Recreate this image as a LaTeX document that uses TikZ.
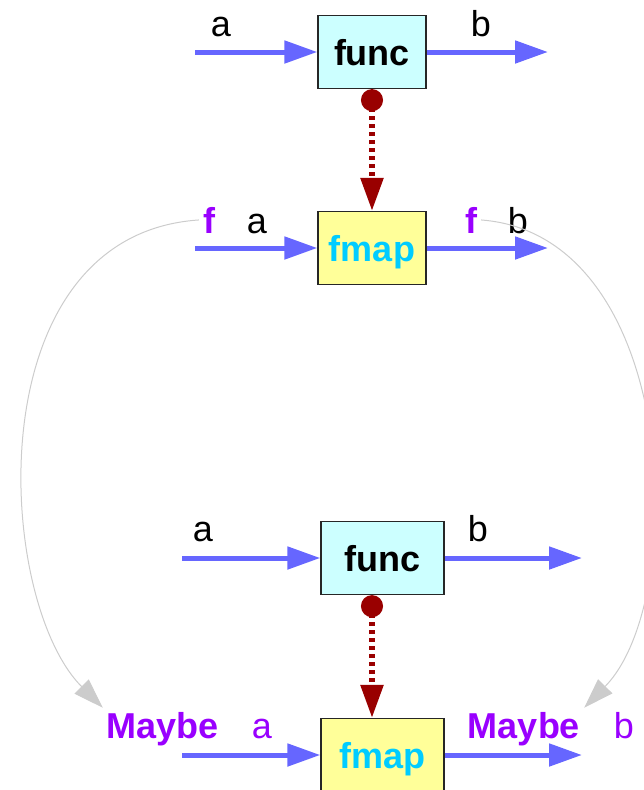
\documentclass[tikz,border=0pt]{standalone}
\usepackage{fontspec}
\setmainfont{Liberation Sans}
\usetikzlibrary{arrows.meta,positioning}
\definecolor{FunBlue}{HTML}{6666FF}
\definecolor{FunCyan}{HTML}{CCFFFF}
\definecolor{FunYellow}{HTML}{FFFF99}
\definecolor{FunSky}{HTML}{00CCFF}
\definecolor{FunPurple}{HTML}{9900FF}
\definecolor{FunRed}{HTML}{990000}
\definecolor{FunGray}{HTML}{CCCCCC}

\begin{document}
\begin{tikzpicture}[x=1pt,y=-1pt,
  every node/.style={font=\fontsize{36}{40}\selectfont},
  funbox/.style={draw=black!85,line width=1.3pt,fill=FunCyan,minimum width=108pt,
    minimum height=73pt,inner sep=0pt,text depth=0pt,font=\fontsize{36}{40}\selectfont\bfseries},
  mapbox/.style={funbox,fill=FunYellow,text=FunSky},
  lbl/.style={anchor=base,inner sep=4pt},
  ftag/.style={lbl,text=FunPurple,font=\fontsize{36}{40}\selectfont\bfseries},
  flow/.style={draw=FunBlue,line width=5pt,-{Triangle[length=33pt,width=22pt]}},
  lift/.style={draw=FunRed,line width=5.5pt,dash pattern=on 4pt off 4pt,
    {Circle[length=22pt]}-{Triangle[length=33pt,width=22pt]}},
  hop/.style={draw=FunGray,line width=1pt,-{Triangle[length=30pt,width=20pt]}}]
  \useasboundingbox (0,0) rectangle (643,790);

  % boxes
  \node[funbox] (func1) at (372,52) {func};
  \node[mapbox] (fmap1) at (372,248) {fmap};
  \node[funbox,minimum width=123pt] (func2) at (382.5,558) {func};
  \node[mapbox,minimum width=123pt] (fmap2) at (382.5,755) {fmap};

  % labels
  \node[lbl] (a1) at (221,36) {a};
  \node[lbl] (b1) at (481,36) {b};
  \node[ftag] (fL) at (209,233) {f};
  \node[lbl] (a2) at (257,233) {a};
  \node[ftag] (fR) at (471,233) {f};
  \node[lbl] (b2) at (518,233) {b};
  \node[lbl] (a3) at (203,541) {a};
  \node[lbl] (b3) at (478,541) {b};
  \node[ftag] (mayL) at (163,738) {Maybe};
  \node[lbl,text=FunPurple] (a4) at (262,738) {a};
  \node[ftag] (mayR) at (524,738) {Maybe};
  \node[lbl,text=FunPurple] (b4) at (624,738) {b};

  % lifting curves
  \draw[hop] (fL.west) .. controls (-25,235) and (-5,600) .. (mayL.north west);
  \draw[hop] (fR.east) .. controls (680,235) and (690,600) .. (mayR.north east);

  % flows
  \coordinate (in1) at (195,52);
  \coordinate (out1) at (548,52);
  \coordinate (in2) at (195,248);
  \coordinate (out2) at (548,248);
  \coordinate (in3) at (182,558);
  \coordinate (out3) at (582,558);
  \coordinate (in4) at (182,755);
  \coordinate (out4) at (582,755);
  \draw[flow] (in1) -- (func1.west);
  \draw[flow] (func1.east) -- (out1);
  \draw[flow] (in2) -- (fmap1.west);
  \draw[flow] (fmap1.east) -- (out2);
  \draw[flow] (in3) -- (func2.west);
  \draw[flow] (func2.east) -- (out3);
  \draw[flow] (in4) -- (fmap2.west);
  \draw[flow] (fmap2.east) -- (out4);

  \draw[lift] (func1.south) -- (fmap1.north);
  \draw[lift] (func2.south -| func1.south) -- (fmap2.north -| func1.south);
\end{tikzpicture}
\end{document}
